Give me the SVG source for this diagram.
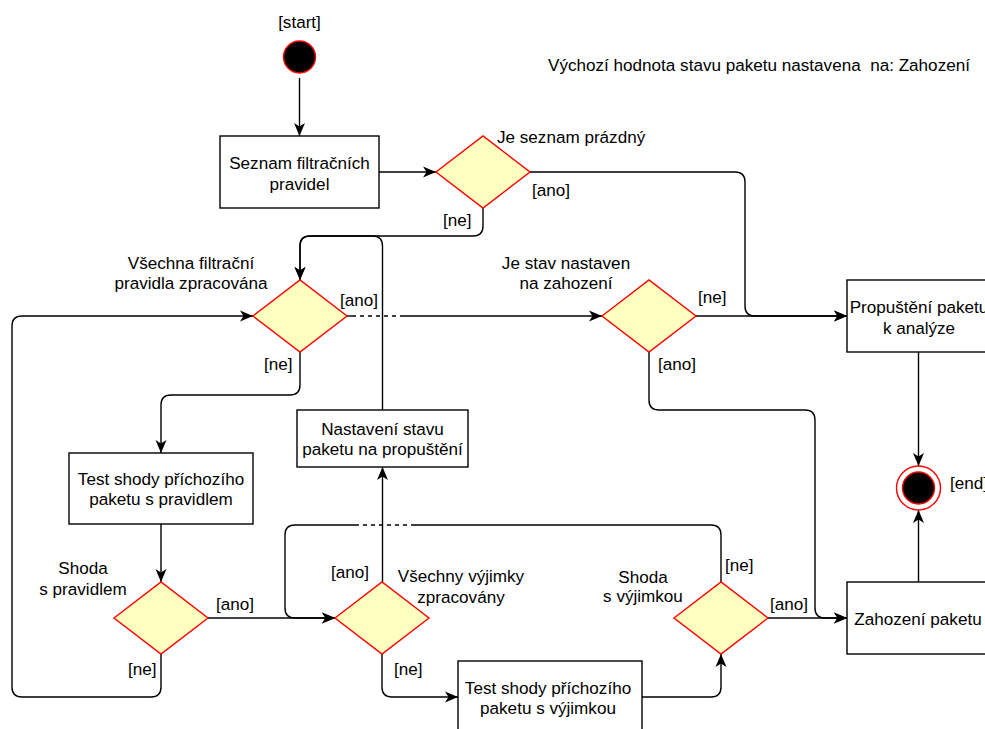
<svg xmlns="http://www.w3.org/2000/svg" width="985" height="729" viewBox="0 0 985 729">
  <defs>
    <marker id="arrow" markerUnits="userSpaceOnUse" markerWidth="14" markerHeight="12" refX="13" refY="6" orient="auto">
      <path d="M0,0.5 L13,6 L0,11.5 L3.5,6 Z" fill="#000"/>
    </marker>
  </defs>
  <style>
    text { font-family: "Liberation Sans", Arial, sans-serif; font-size: 17.1px; fill: #000; }
    .c { text-anchor: middle; }
    .box { fill: #fff; stroke: #000; stroke-width: 1.4; }
    .dia { fill: #ffffc0; stroke: #ff0000; stroke-width: 1.4; }
    .edge { fill: none; stroke: #000; stroke-width: 1.4; }
    .arr { marker-end: url(#arrow); }
    .dash { stroke-dasharray: 4 4; }
  </style>
  <rect width="985" height="729" fill="#fff"/>

  <!-- connectors -->
  <g id="connectors">
    <path class="edge arr" d="M299.5,78 L299.5,136"/>
    <path class="edge arr" d="M379,172 L436,172"/>
    <path class="edge arr" d="M530,172 L735,172 Q745,172 745,182 L745,306 Q745,316 755,316 L847,316"/>
    <path class="edge arr" d="M483,208 L483,226 Q483,236 473,236 L310,236 Q300,236 300,246 L300,280"/>
    <path class="edge arr" d="M382.5,410 L382.5,246 Q382.5,236 372.5,236 L310,236 Q300,236 300,246 L300,280"/>
    <path class="edge" d="M347,316 L352,316"/>
    <path class="edge dash" d="M352,316 L402,316"/>
    <path class="edge arr" d="M402,316 L602,316"/>
    <path class="edge arr" d="M696,316 L847,316"/>
    <path class="edge arr" d="M649,352 L649,400 Q649,410 659,410 L805,410 Q815,410 815,420 L815,608 Q815,618 825,618 L847,618"/>
    <path class="edge arr" d="M918.5,352 L918.5,466"/>
    <path class="edge arr" d="M918.5,582 L918.5,510"/>
    <path class="edge arr" d="M300,352 L300,385 Q300,395 290,395 L171,395 Q161,395 161,405 L161,453"/>
    <path class="edge arr" d="M161,524 L161,582"/>
    <path class="edge arr" d="M208,618 L335,618"/>
    <path class="edge arr" d="M161,654 L161,687 Q161,697 151,697 L22,697 Q12,697 12,687 L12,326 Q12,316 22,316 L253,316"/>
    <path class="edge arr" d="M382.5,582 L382.5,467"/>
    <path class="edge arr" d="M382,654 L382,687 Q382,697 392,697 L458,697"/>
    <path class="edge arr" d="M642,697 L711,697 Q721,697 721,687 L721,654"/>
    <path class="edge arr" d="M768,618 L847,618"/>
    <path class="edge" d="M721,582 L721,535 Q721,525 711,525 L415,525"/>
    <path class="edge dash" d="M415,525 L358,525"/>
    <path class="edge arr" d="M358,525 L295,525 Q285,525 285,535 L285,608 Q285,618 295,618 L335,618"/>
  </g>

  <!-- note -->
  <g id="note">
    <text x="548" y="71" xml:space="preserve">Výchozí hodnota stavu paketu nastavena  na: Zahození</text>
  </g>

  <!-- start -->
  <g id="start">
    <circle cx="299.5" cy="57" r="16" fill="#000" stroke="#ff0000" stroke-width="1.4"/>
    <text class="c" x="299.5" y="28">[start]</text>
  </g>

  <g id="seznam">
    <rect class="box" x="220" y="136" width="159" height="72"/>
    <text class="c" x="299.5" y="168.5">Seznam filtračních</text>
    <text class="c" x="299.5" y="189.5">pravidel</text>
  </g>

  <g id="je-seznam-prazdny">
    <polygon class="dia" points="436,172 483,136 530,172 483,208"/>
    <text x="497" y="143">Je seznam prázdný</text>
    <text x="532" y="196">[ano]</text>
    <text x="443" y="226">[ne]</text>
  </g>

  <g id="vsechna-pravidla">
    <polygon class="dia" points="253,316 300,280 347,316 300,352"/>
    <text class="c" x="191" y="269">Všechna filtrační</text>
    <text class="c" x="191" y="289">pravidla zpracována</text>
    <text x="340" y="306">[ano]</text>
    <text x="264" y="370">[ne]</text>
  </g>

  <g id="je-stav-nastaven">
    <polygon class="dia" points="602,316 649,280 696,316 649,352"/>
    <text class="c" x="566" y="269">Je stav nastaven</text>
    <text class="c" x="566" y="289">na zahození</text>
    <text x="698" y="303">[ne]</text>
    <text x="658" y="370">[ano]</text>
  </g>

  <g id="propusteni">
    <rect class="box" x="847" y="280" width="144" height="72"/>
    <text class="c" x="919" y="313">Propuštění paketu</text>
    <text class="c" x="919" y="334">k analýze</text>
  </g>

  <g id="end">
    <circle cx="918.5" cy="488" r="22" fill="#fff" stroke="#ff0000" stroke-width="1.4"/>
    <circle cx="918.5" cy="488" r="16" fill="#000" stroke="#ff0000" stroke-width="1.4"/>
    <text x="950" y="489">[end]</text>
  </g>

  <g id="nastaveni">
    <rect class="box" x="297" y="410" width="171" height="57"/>
    <text class="c" x="382.5" y="435">Nastavení stavu</text>
    <text class="c" x="382.5" y="455">paketu na propuštění</text>
  </g>

  <g id="test-pravidlem">
    <rect class="box" x="69" y="453" width="184" height="71"/>
    <text class="c" x="161" y="485">Test shody příchozího</text>
    <text class="c" x="161" y="505">paketu s pravidlem</text>
  </g>

  <g id="shoda-pravidlem">
    <polygon class="dia" points="114,618 161,582 208,618 161,654"/>
    <text class="c" x="83" y="574">Shoda</text>
    <text class="c" x="83" y="595">s pravidlem</text>
    <text x="216" y="610">[ano]</text>
    <text x="128" y="675">[ne]</text>
  </g>

  <g id="vsechny-vyjimky">
    <polygon class="dia" points="335,618 382,582 429,618 382,654"/>
    <text x="331" y="578">[ano]</text>
    <text class="c" x="461" y="582">Všechny výjimky</text>
    <text class="c" x="461" y="603">zpracovány</text>
    <text x="394" y="675">[ne]</text>
  </g>

  <g id="test-vyjimkou">
    <rect class="box" x="458" y="661" width="184" height="72"/>
    <text class="c" x="548" y="694">Test shody příchozího</text>
    <text class="c" x="548" y="714">paketu s výjimkou</text>
  </g>

  <g id="shoda-vyjimkou">
    <polygon class="dia" points="674,618 721,582 768,618 721,654"/>
    <text class="c" x="643" y="583">Shoda</text>
    <text class="c" x="643" y="602">s výjimkou</text>
    <text x="725" y="571">[ne]</text>
    <text x="770" y="610">[ano]</text>
  </g>

  <g id="zahozeni">
    <rect class="box" x="847" y="582" width="144" height="72"/>
    <text class="c" x="918" y="625">Zahození paketu</text>
  </g>
</svg>
